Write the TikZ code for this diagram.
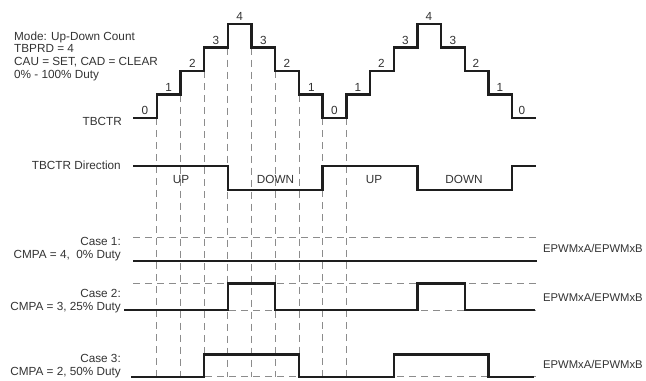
\documentclass[tikz,border=0pt]{standalone}
\usepackage{fontspec}
\setmainfont{Liberation Sans}
\usetikzlibrary{positioning}

\definecolor{txtgray}{HTML}{333333}
\definecolor{siggray}{HTML}{1E1E1E}
\definecolor{guidegray}{HTML}{8C8C8C}

\tikzset{
    lbl/.style={font=\fontsize{11.8}{12.7}\selectfont, text=txtgray, inner sep=0pt},
    outlbl/.style={lbl, font=\fontsize{11.3}{12.7}\selectfont, anchor=west},
    sig/.style={draw=siggray, line width=2.4bp},
    guide/.style={draw=guidegray, line width=0.8bp, dash pattern=on 7bp off 5bp},
}

\begin{document}
\begin{tikzpicture}[x=1bp, y=-1bp]

    \useasboundingbox (0,0) rectangle (646,380);

    % text on the left
    \draw(14,31.5) node[lbl, anchor=north west, align=left] (mode) {Mode: Up-Down Count\\TBPRD = 4\\CAU = SET, CAD = CLEAR\\0\% - 100\% Duty};
    \draw(122,121.5) node[lbl, anchor=east] (tbctr) {TBCTR};
    \draw(121,165.5) node[lbl, anchor=east] (dir) {TBCTR Direction};
    \draw(121,237) node[lbl, anchor=north east, align=right] (case1) {Case 1:\\CMPA = 4,\ \ 0\% Duty};
    \draw(121,289) node[lbl, anchor=north east, align=right] (case2) {Case 2:\\CMPA = 3, 25\% Duty};
    \draw(121,354.5) node[lbl, anchor=north east, align=right] (case3) {Case 3:\\CMPA = 2, 50\% Duty};

    % text on the right
    \draw(543,248) node[outlbl] (out1) {EPWMxA/EPWMxB};
    \draw(543,297) node[outlbl] (out2) {EPWMxA/EPWMxB};
    \draw(543,364) node[outlbl] (out3) {EPWMxA/EPWMxB};

    % guides
    \draw[guide] (156.7,118) -- (156.7,377);
    \draw[guide] (180.4,94.5) -- (180.4,377);
    \draw[guide] (204.1,71) -- (204.1,377);
    \draw[guide] (227.8,47.5) -- (227.8,377);
    \draw[guide] (251.5,47.5) -- (251.5,377);
    \draw[guide] (275.2,71) -- (275.2,377);
    \draw[guide] (298.9,94.5) -- (298.9,377);
    \draw[guide] (322.6,118) -- (322.6,377);
    \draw[guide] (346.3,118) -- (346.3,377);
    \draw[guide] (133,237.3) -- (536,237.3);
    \draw[guide] (133,283.3) -- (536,283.3);
    \draw[guide] (133,310) -- (536,310);
    \draw[guide] (133,376.7) -- (536,376.7);

    % TBCTR
    \draw[sig] (133,118) -- (156.7,118) |- (180.4,94.5) |- (204.1,71) |- (227.8,47.5) |- (251.5,24)
        |- (275.2,47.5) |- (298.9,71) |- (322.6,94.5) |- (346.3,118)
        |- (370,94.5) |- (393.7,71) |- (417.4,47.5) |- (441.1,24)
        |- (464.8,47.5) |- (488.5,71) |- (512.2,94.5) |- (535.9,118);
    \draw(144.9,110.5) node[lbl] (c0) {0};
    \draw(168.6,87) node[lbl] (c1) {1};
    \draw(192.3,63.5) node[lbl] (c2) {2};
    \draw(216,40) node[lbl] (c3) {3};
    \draw(239.7,16.5) node[lbl] (c4) {4};
    \draw(263.4,40) node[lbl] (c5) {3};
    \draw(287,63.5) node[lbl] (c6) {2};
    \draw(311.5,87) node[lbl] (c7) {1};
    \draw(334.5,110.5) node[lbl] (c8) {0};
    \draw(358,87) node[lbl] (c9) {1};
    \draw(381.5,63.5) node[lbl] (c10) {2};
    \draw(405.5,40) node[lbl] (c11) {3};
    \draw(429,16.5) node[lbl] (c12) {4};
    \draw(452.8,40) node[lbl] (c13) {3};
    \draw(476,63.5) node[lbl] (c14) {2};
    \draw(500,87) node[lbl] (c15) {1};
    \draw(522,110.5) node[lbl] (c16) {0};

    % direction
    \draw[sig] (133,165.7) -| (227.8,190) -| (322.6,165.7) -| (417.4,190) -| (512.2,165.7) -- (535.9,165.7);
    \draw(181,179.5) node[lbl] (up1) {UP};
    \draw(275.5,179.5) node[lbl] (down1) {DOWN};
    \draw(374,179.5) node[lbl] (up2) {UP};
    \draw(464,179.5) node[lbl] (down2) {DOWN};

    % cases
    \draw[sig] (133,260.7) -- (537,260.7);
    \draw[sig] (124,310) -| (227.8,283.3) -| (275.2,310) -| (417.4,283.3) -| (464.8,310) -- (535,310);
    \draw[sig] (131,376.7) -| (204.1,354.3) -| (298.9,376.7) -| (393.7,354.3) -| (488.5,376.7) -- (534,376.7);

\end{tikzpicture}
\end{document}
